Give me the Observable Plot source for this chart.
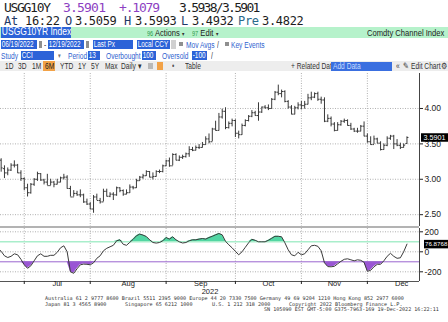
<!DOCTYPE html>
<html><head><meta charset="utf-8">
<script src="https://cdn.jsdelivr.net/npm/d3@7"></script>
<script src="https://cdn.jsdelivr.net/npm/@observablehq/plot@0.6"></script>
<style>
html,body{margin:0;padding:0;background:#fff;}
#root{position:relative;width:448px;height:322px;overflow:hidden;background:#fff;}
.a{position:absolute;white-space:nowrap;}
.mono{font-family:"DejaVu Sans Mono","Liberation Mono",monospace;}
.ui{font-family:"Liberation Sans",Arial,sans-serif;font-size:9.5px;line-height:10px;transform:scaleX(.8);transform-origin:0 50%;}
.fm{font-family:"Liberation Sans",Arial,sans-serif;font-size:8.5px;line-height:10px;transform:scaleX(.78);transform-origin:0 50%;}
.box{background:#2c63d8;color:#fff;font-family:"Liberation Sans",Arial,sans-serif;font-size:8.5px;line-height:9px;height:9px;overflow:hidden;}
.box span{display:inline-block;transform:scaleX(.75);transform-origin:0 50%;padding-left:1px;}
.lnk{color:#2f5fcf;}
.ft{font-family:"DejaVu Sans Mono",monospace;font-size:5.1px;line-height:5.5px;color:#333;}
.r1{font-size:13px;line-height:13px;top:1px;}
.r2{font-size:12px;line-height:12px;top:14.5px;letter-spacing:-0.3px;}
</style></head>
<body><div id="root">
<!-- row 1 -->
<div class="a mono r1" style="left:4px;letter-spacing:-1.3px;color:#1d1d1d">USGG10Y</div>
<div class="a mono r1" style="left:63px;letter-spacing:-0.8px;color:#8d3fc2">3.5901</div>
<div class="a mono r1" style="left:119px;letter-spacing:-1.2px;color:#8d3fc2">+.1079</div>
<div class="a mono r1" style="left:179px;letter-spacing:-1.7px;color:#1d1d1d">3.5938/3.5901</div>
<!-- row 2 -->
<div class="a mono r2" style="left:4px;color:#1f3a66">At</div>
<div class="a mono r2" style="left:25px;color:#1d1d1d">16:22</div>
<div class="a mono r2" style="left:65px;color:#1f3a66">O</div>
<div class="a mono r2" style="left:75px;color:#1d1d1d">3.5059</div>
<div class="a mono r2" style="left:124px;color:#1f3a66">H</div>
<div class="a mono r2" style="left:135px;color:#1d1d1d">3.5993</div>
<div class="a mono r2" style="left:181px;color:#1f3a66">L</div>
<div class="a mono r2" style="left:192px;color:#1d1d1d">3.4932</div>
<div class="a mono r2" style="left:238px;color:#2a6a8c">Pre</div>
<div class="a mono r2" style="left:262px;color:#1d1d1d">3.4822</div>
<!-- green bar -->
<div class="a" style="left:0;top:27px;width:448px;height:10.5px;background:#b6f2cb"></div>
<div class="a box" style="left:1px;top:27px;width:70px;height:10.5px;font-size:10px;line-height:10.5px"><span style="transform:scaleX(.85)">USGG10YR Index</span></div>
<div class="a ui" style="left:147px;top:27.5px;"><span style="color:#2a9a48;font-size:7px">96</span> <span style="color:#222">Actions</span> <span style="font-size:6px;color:#333">▾</span></div>
<div class="a ui" style="left:192px;top:27.5px;"><span style="color:#2a9a48;font-size:7px">97</span> <span style="color:#222">Edit</span> <span style="font-size:6px;color:#333">▾</span></div>
<div class="a ui" style="left:367px;top:27.5px;color:#222">Comdty Channel Index</div>
<!-- row 3 -->
<div class="a box" style="left:1px;top:40px;width:36px"><span>06/19/2022</span></div>
<div class="a" style="left:38.5px;top:41px;width:3.5px;height:7px;background:#8f8f8f"></div>
<div class="a fm" style="left:44px;top:39.5px;color:#333">-</div>
<div class="a box" style="left:48px;top:40px;width:36px"><span>12/19/2022</span></div>
<div class="a" style="left:85.5px;top:41px;width:3.5px;height:7px;background:#8f8f8f"></div>
<div class="a box" style="left:93px;top:40px;width:40px"><span>Last Px</span></div>
<div class="a box" style="left:137px;top:40px;width:33px"><span>Local CCY</span></div>
<div class="a" style="left:171px;top:40px;width:5px;height:9px;background:#d0d0d0"></div>
<div class="a" style="left:179px;top:42px;width:4px;height:4px;background:#8f8f8f"></div>
<div class="a fm lnk" style="left:186px;top:39.5px">Mov Avgs</div>
<div class="a fm" style="left:217px;top:39.5px;color:#333">/</div>
<div class="a" style="left:225px;top:42px;width:4px;height:4px;background:#8f8f8f"></div>
<div class="a fm lnk" style="left:231px;top:39.5px">Key Events</div>
<!-- row 4 -->
<div class="a fm lnk" style="left:1px;top:50.5px">Study</div>
<div class="a box" style="left:21px;top:51px;width:33px"><span>CCI</span></div>
<div class="a fm" style="left:58px;top:50.5px;color:#777;font-size:7px">▾</div>
<div class="a fm lnk" style="left:68px;top:50.5px">Period</div>
<div class="a box" style="left:88px;top:51px;width:12px"><span>13</span></div>
<div class="a fm lnk" style="left:106px;top:50.5px">Overbought</div>
<div class="a box" style="left:142px;top:51px;width:14px"><span>100</span></div>
<div class="a fm lnk" style="left:162px;top:50.5px">Oversold</div>
<div class="a box" style="left:192px;top:51px;width:15px"><span>-100</span></div>
<div class="a fm" style="left:211px;top:50.5px;color:#333">/</div>
<!-- row 5 -->
<div class="a" style="left:0;top:61px;width:448px;height:10px;background:#ededed"></div>
<div class="a fm" style="left:5px;top:61px;color:#333">1D</div>
<div class="a fm" style="left:18px;top:61px;color:#333">3D</div>
<div class="a fm" style="left:32px;top:61px;color:#333">1M</div>
<div class="a" style="left:43px;top:61px;width:12px;height:10px;background:#f2a247"></div>
<div class="a fm" style="left:45px;top:61px;color:#222">6M</div>
<div class="a fm" style="left:60px;top:61px;color:#333">YTD</div>
<div class="a fm" style="left:78px;top:61px;color:#333">1Y</div>
<div class="a fm" style="left:91px;top:61px;color:#333">5Y</div>
<div class="a fm" style="left:105px;top:61px;color:#333">Max</div>
<div class="a fm" style="left:121px;top:61px;color:#333">Daily ▾</div>
<div class="a" style="left:148px;top:63px;width:5px;height:6px;background:#b9b9b9"></div>
<div class="a" style="left:157px;top:62px;width:6px;height:8px;background:#f2a247"></div>
<div class="a fm" style="left:172px;top:61px;color:#555">•</div>
<div class="a fm" style="left:185px;top:61px;color:#333">Table</div>
<div class="a fm" style="left:291px;top:61px;color:#333">+ Related Dat</div>
<div class="a" style="left:331px;top:61.5px;width:61px;height:9px;background:#3a6fe0"></div>
<div class="a fm" style="left:333px;top:61px;color:#c9dcff">Add Data</div>
<div class="a fm" style="left:396px;top:61px;color:#333">«</div>
<div class="a fm" style="left:403px;top:61px;color:#333">✎ Edit Chart</div>
<div class="a fm" style="left:441px;top:61px;color:#333">⚙</div>
<!-- charts -->
<div id="main" class="a" style="left:0;top:72px"></div>
<div class="a" style="left:0;top:225.5px;width:419px;height:2.5px;background:#b3b3b3"></div>
<div id="cci" class="a" style="left:0;top:228px"></div>
<!-- footer -->
<div class="a ft" style="left:45px;top:296px">Australia 61 2 9777 8600 Brazil 5511 2395 9000 Europe 44 20 7330 7500 Germany 49 69 9204 1210 Hong Kong 852 2977 6000</div>
<div class="a ft" style="left:45px;top:301.5px">Japan 81 3 4565 8900</div>
<div class="a ft" style="left:125px;top:301.5px">Singapore 65 6212 1000</div>
<div class="a ft" style="left:212px;top:301.5px">U.S. 1 212 318 2000</div>
<div class="a ft" style="left:289px;top:301.5px">Copyright 2022 Bloomberg Finance L.P.</div>
<div class="a ft" style="left:264px;top:307px">SN 105090 EST  GMT-5:00 G375-7963-169 19-Dec-2022 16:22:11</div>
</div>
<script>
const dates = [
"2022-06-21","2022-06-22","2022-06-23","2022-06-24","2022-06-27","2022-06-28","2022-06-29","2022-06-30",
"2022-07-01","2022-07-05","2022-07-06","2022-07-07","2022-07-08","2022-07-11","2022-07-12","2022-07-13","2022-07-14","2022-07-15",
"2022-07-18","2022-07-19","2022-07-20","2022-07-21","2022-07-22","2022-07-25","2022-07-26","2022-07-27","2022-07-28","2022-07-29",
"2022-08-01","2022-08-02","2022-08-03","2022-08-04","2022-08-05","2022-08-08","2022-08-09","2022-08-10","2022-08-11","2022-08-12",
"2022-08-15","2022-08-16","2022-08-17","2022-08-18","2022-08-19","2022-08-22","2022-08-23","2022-08-24","2022-08-25","2022-08-26",
"2022-08-29","2022-08-30","2022-08-31",
"2022-09-01","2022-09-02","2022-09-06","2022-09-07","2022-09-08","2022-09-09","2022-09-12","2022-09-13","2022-09-14","2022-09-15",
"2022-09-16","2022-09-19","2022-09-20","2022-09-21","2022-09-22","2022-09-23","2022-09-26","2022-09-27","2022-09-28","2022-09-29","2022-09-30",
"2022-10-03","2022-10-04","2022-10-05","2022-10-06","2022-10-07","2022-10-11","2022-10-12","2022-10-13","2022-10-14","2022-10-17",
"2022-10-18","2022-10-19","2022-10-20","2022-10-21","2022-10-24","2022-10-25","2022-10-26","2022-10-27","2022-10-28","2022-10-31",
"2022-11-01","2022-11-02","2022-11-03","2022-11-04","2022-11-07","2022-11-08","2022-11-09","2022-11-10","2022-11-14","2022-11-15",
"2022-11-16","2022-11-17","2022-11-18","2022-11-21","2022-11-22","2022-11-23","2022-11-25","2022-11-28","2022-11-29","2022-11-30",
"2022-12-01","2022-12-02","2022-12-05","2022-12-06","2022-12-07","2022-12-08","2022-12-09","2022-12-12","2022-12-13","2022-12-14",
"2022-12-15","2022-12-16","2022-12-19"];
const open = [3.23,3.27,3.15,3.09,3.13,3.20,3.20,3.09,
3.01,2.88,2.81,2.93,3.00,3.08,2.99,2.96,2.91,2.96,2.93,2.96,3.02,3.03,2.87,2.75,2.80,2.78,2.78,2.68,
2.65,2.58,2.75,2.70,2.68,2.83,2.76,2.79,2.78,2.88,2.84,2.79,2.81,2.89,2.88,2.98,3.03,3.05,3.11,3.03,3.04,3.11,3.11,
3.19,3.26,3.19,3.35,3.27,3.31,3.32,3.36,3.42,3.41,3.45,3.45,3.49,3.57,3.53,3.71,3.69,3.88,3.96,3.73,3.79,
3.83,3.65,3.63,3.76,3.83,3.89,3.94,3.90,3.95,4.02,4.01,4.00,4.13,4.23,4.21,4.24,4.10,4.02,3.92,4.01,
4.05,4.04,4.06,4.15,4.16,4.21,4.13,4.12,3.82,3.86,3.78,3.69,3.77,3.82,3.83,3.76,3.71,3.68,3.68,3.75,
3.61,3.53,3.49,3.57,3.51,3.42,3.48,3.58,3.61,3.50,3.48,3.45,3.5059];
const high = [3.31,3.29,3.19,3.16,3.22,3.26,3.21,3.12,
3.02,2.93,2.94,3.01,3.10,3.08,3.00,3.07,3.00,2.97,3.00,3.03,3.07,3.05,2.90,2.84,2.83,2.85,2.79,2.72,
2.67,2.77,2.79,2.73,2.86,2.86,2.81,2.81,2.89,2.88,2.85,2.85,2.92,2.90,3.00,3.04,3.07,3.12,3.11,3.09,3.12,3.13,3.20,
3.27,3.30,3.36,3.36,3.33,3.34,3.37,3.46,3.45,3.47,3.49,3.52,3.60,3.64,3.72,3.82,3.93,3.99,4.01,3.81,3.85,
3.84,3.68,3.78,3.84,3.90,3.97,3.96,4.08,4.02,4.04,4.05,4.14,4.24,4.33,4.26,4.25,4.11,4.04,4.03,4.08,
4.10,4.10,4.20,4.23,4.22,4.23,4.16,4.15,3.91,3.88,3.80,3.80,3.83,3.85,3.84,3.79,3.72,3.72,3.76,3.81,
3.64,3.60,3.61,3.58,3.53,3.50,3.60,3.62,3.62,3.56,3.51,3.50,3.5993];
const low = [3.22,3.10,3.01,3.05,3.11,3.16,3.08,2.97,
2.84,2.75,2.79,2.90,2.97,2.97,2.92,2.91,2.91,2.88,2.92,2.95,2.99,2.86,2.75,2.75,2.76,2.74,2.66,2.63,
2.57,2.52,2.70,2.65,2.68,2.75,2.74,2.70,2.76,2.81,2.76,2.78,2.80,2.85,2.87,2.97,3.00,3.04,3.02,2.99,3.03,3.08,3.09,
3.18,3.17,3.19,3.26,3.25,3.28,3.30,3.31,3.39,3.40,3.42,3.44,3.48,3.50,3.53,3.68,3.68,3.85,3.70,3.71,3.74,
3.59,3.57,3.62,3.74,3.81,3.87,3.89,3.82,3.93,3.99,3.97,3.99,4.11,4.18,4.15,4.08,3.99,3.91,3.91,3.98,
3.98,3.99,4.05,4.11,4.14,4.10,4.06,3.80,3.80,3.74,3.67,3.68,3.75,3.79,3.75,3.69,3.66,3.65,3.67,3.60,
3.51,3.48,3.49,3.50,3.40,3.41,3.46,3.55,3.42,3.46,3.42,3.44,3.4932];
const close = [3.28,3.16,3.09,3.13,3.20,3.20,3.09,3.01,
2.88,2.81,2.93,3.00,3.08,2.99,2.96,2.91,2.96,2.93,2.96,3.02,3.03,2.87,2.75,2.80,2.78,2.78,2.68,2.65,
2.58,2.75,2.70,2.68,2.83,2.76,2.79,2.78,2.88,2.84,2.79,2.81,2.89,2.88,2.98,3.03,3.05,3.11,3.03,3.04,3.11,3.11,3.19,
3.26,3.19,3.35,3.27,3.31,3.32,3.36,3.42,3.41,3.45,3.45,3.49,3.57,3.53,3.71,3.69,3.88,3.96,3.73,3.79,3.83,
3.65,3.63,3.76,3.83,3.89,3.94,3.90,3.95,4.02,4.01,4.00,4.13,4.23,4.21,4.24,4.10,4.02,3.92,4.01,4.05,
4.04,4.06,4.15,4.16,4.21,4.13,4.12,3.82,3.86,3.78,3.69,3.77,3.82,3.83,3.76,3.71,3.68,3.68,3.75,3.61,
3.53,3.49,3.57,3.51,3.42,3.48,3.58,3.61,3.50,3.48,3.45,3.4822,3.5901];
const cci = [35,5,-40,-57,-45,-20,-30,-75,-130,-165,
-140,-90,-40,-20,-45,-45,-35,-35,-5,40,
60,0,-200,-215,-170,-130,-123,-125,-130,-110,
-65,-40,10,35,50,65,110,120,75,65,
95,125,160,177,167,153,120,93,87,93,
110,143,127,150,120,100,88,93,110,120,
120,127,133,127,143,155,170,183,170,105,
70,40,5,-30,0,45,90,125,115,100,
100,100,115,135,155,155,150,90,20,-30,
-40,-5,-30,-20,20,60,65,55,10,-110,
-148,-150,-145,-120,-95,-75,-70,-80,-90,-80,
-85,-105,-195,-185,-150,-125,-125,-90,-45,-15,
-45,-65,-60,0,76.8768];
const priceTicks = [2.5, 3.0, 3.5, 4.0];
const cciTicks = [-200, 0, 200];
const monthLabels = ["Jul","Aug","Sep","Oct","Nov","Dec"];
const yearLabel = ["2022"];
const overbought = 100, oversold = -100;

const data = dates.map((d, i) => ({i, date: d, open: open[i], high: high[i], low: low[i], close: close[i], cci: cci[i]}));
const monthStarts = data.filter((d, i) => i > 0 && d.date.slice(5, 7) !== data[i - 1].date.slice(5, 7)).map(d => d.i);
const avgLen = d3.mean(monthStarts.slice(1).map((s, k) => s - monthStarts[k]));
const monthCenters = monthStarts.map((s, k) => k < monthStarts.length - 1 ? (s + monthStarts[k + 1]) / 2 : s + avgLen / 2);
const last = data[data.length - 1];

const xDomain = [0.8, 127.8];
const priceDomain = [2.333, 4.494];
const cciDomain = [-297, 233];
const font = {fontFamily: "'Liberation Sans', Arial, sans-serif", fontSize: "8.5px", color: "#222", background: "none", overflow: "visible"};
const grid = {stroke: "#b0b0b0", strokeDasharray: "1,1.5"};
const barColor = "#3a3a3a";

const main = Plot.plot({
  width: 448, height: 155, marginLeft: 0, marginRight: 29, marginTop: 1, marginBottom: 1,
  style: font,
  x: {domain: xDomain, axis: null},
  y: {domain: priceDomain, axis: null},
  marks: [
    Plot.ruleY(priceTicks, grid),
    Plot.ruleX(monthStarts, grid),
    Plot.ruleX(data, {x: "i", y1: "low", y2: "high", stroke: barColor}),
    Plot.link(data, {x1: d => d.i - 0.45, x2: "i", y1: "open", y2: "open", stroke: barColor}),
    Plot.link(data, {x1: "i", x2: d => d.i + 0.45, y1: "close", y2: "close", stroke: barColor}),
    Plot.ruleX([xDomain[1]], {stroke: "#444"}),
    Plot.axisY({anchor: "right", ticks: priceTicks, tickSize: 3, tickPadding: 2, tickFormat: d => d.toFixed(2), label: null}),
    Plot.ruleY([last.close], {insetLeft: 421, insetRight: -29, stroke: "#000", strokeWidth: 8.5}),
    Plot.text([last.close], {y: d => d, text: d => d.toFixed(4), frameAnchor: "right", textAnchor: "start", dx: 4, fill: "#fff", fontSize: 7.2})
  ]
});
document.getElementById("main").appendChild(main);

const lower = Plot.plot({
  width: 448, height: 70, marginLeft: 0, marginRight: 29, marginTop: 0, marginBottom: 17,
  style: font,
  x: {domain: xDomain, axis: null},
  y: {domain: cciDomain, axis: null},
  marks: [
    Plot.ruleY(cciTicks, grid),
    Plot.ruleX(monthStarts, grid),
    Plot.areaY(data, {x: "i", y1: d => overbought, y2: d => Math.max(d.cci, overbought), fill: "#52d6a3"}),
    Plot.areaY(data, {x: "i", y1: d => oversold, y2: d => Math.min(d.cci, oversold), fill: "#9a56d4"}),
    Plot.ruleY([overbought], {stroke: "#a9eecb", strokeWidth: 1.5}),
    Plot.ruleY([oversold], {stroke: "#9b66cf"}),
    Plot.lineY(data, {x: "i", y: "cci", stroke: "#3a3a3a", strokeWidth: 1}),
    Plot.ruleX([xDomain[1]], {stroke: "#444"}),
    Plot.ruleY([cciDomain[0]], {stroke: "#555"}),
    Plot.axisY({anchor: "right", ticks: cciTicks, tickSize: 3, tickPadding: 2, tickFormat: d => String(d), label: null}),
    Plot.axisX({anchor: "bottom", ticks: monthStarts, tickSize: 3, tickFormat: () => "", label: null}),
    Plot.text(monthLabels, {x: (d, k) => monthCenters[k], text: d => d, frameAnchor: "bottom", dy: 4, fontSize: 7.5}),
    Plot.text(yearLabel, {text: d => d, frameAnchor: "bottom", dy: 12.5, fontSize: 7.5}),
    Plot.ruleY([last.cci], {insetLeft: 424, insetRight: -29, stroke: "#000", strokeWidth: 8.5}),
    Plot.text([last.cci], {y: d => d, text: d => d.toFixed(4), frameAnchor: "right", textAnchor: "start", dx: 5.5, fill: "#fff", fontSize: 6.2})
  ]
});
document.getElementById("cci").appendChild(lower);
</script>
</body></html>
